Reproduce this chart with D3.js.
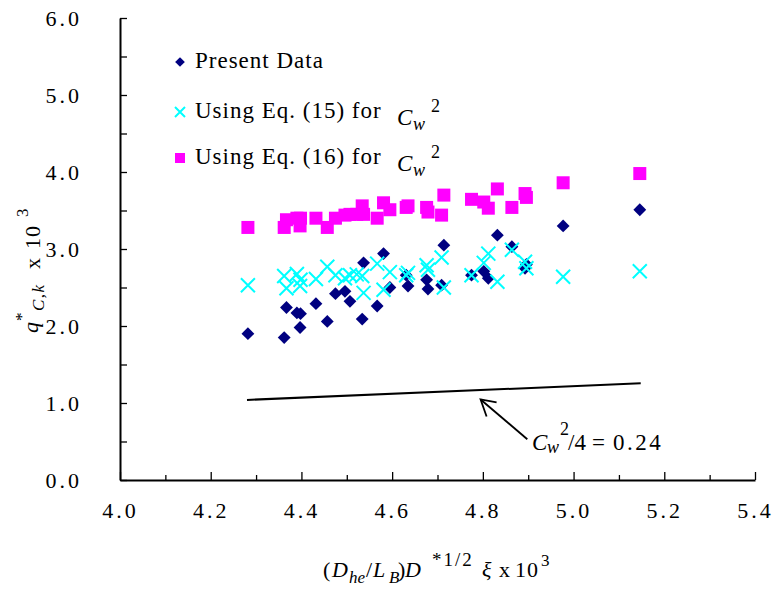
<!DOCTYPE html>
<html>
<head>
<meta charset="utf-8">
<script src="https://cdn.jsdelivr.net/npm/d3@7"></script>
<style>
  body { margin: 0; background: #fff; }
  svg { display: block; }
  svg text { font-family: 'Liberation Serif', 'Times New Roman', serif; fill: #000; }
</style>
</head>
<body>
<svg id="chart" width="774" height="597"></svg>
<script>
// x values shared by the two model series
const xVals = [4.282, 4.362, 4.367, 4.390, 4.397, 4.398, 4.432, 4.457, 4.475, 4.496, 4.507, 4.522, 4.534, 4.537, 4.567, 4.581,
  4.595, 4.631, 4.635, 4.676, 4.679, 4.709, 4.714, 4.775, 4.802, 4.812, 4.832, 4.864, 4.893, 4.896, 4.977, 5.146];

const presentX = [4.282, 4.362, 4.367, 4.390, 4.397, 4.398, 4.432, 4.457, 4.475, 4.496, 4.507, 4.534, 4.537, 4.567, 4.581, 4.595,
  4.631, 4.635, 4.676, 4.679, 4.709, 4.714, 4.775, 4.802, 4.812, 4.832, 4.864, 4.893, 4.896, 4.977, 5.146];
const presentY = [1.90, 1.85, 2.24, 2.17, 1.98, 2.16, 2.29, 2.06, 2.42, 2.45, 2.32, 2.09, 2.82, 2.26, 2.94, 2.50,
  2.66, 2.52, 2.60, 2.48, 2.53, 3.05, 2.66, 2.71, 2.62, 3.18, 3.03, 2.75, 2.80, 3.30, 3.51];

const eq15Y = [2.53, 2.65, 2.49, 2.675, 2.52, 2.60, 2.61, 2.77, 2.66, 2.62, 2.66, 2.67, 2.65, 2.43, 2.81, 2.47,
  2.70, 2.66, 2.69, 2.79, 2.73, 2.89, 2.50, 2.66, 2.82, 2.94, 2.575, 2.99, 2.835, 2.75, 2.64, 2.71];

const eq16Y = [3.28, 3.28, 3.38, 3.40, 3.30, 3.40, 3.40, 3.28, 3.40, 3.44, 3.45, 3.45, 3.56, 3.45, 3.40, 3.60,
  3.51, 3.54, 3.56, 3.54, 3.48, 3.44, 3.70, 3.645, 3.61, 3.53, 3.78, 3.54, 3.72, 3.67, 3.86, 3.98];

// C_w^2/4 = 0.24 line
const lineX = [4.28, 5.148];
const lineY = [1.04, 1.255];

const xTicks = [4.0, 4.2, 4.4, 4.6, 4.8, 5.0, 5.2, 5.4];

const svg = d3.select("#chart");
svg.append("rect").attr("width", 774).attr("height", 597).attr("fill", "#fff");

const x = d3.scaleLinear().domain([4.0, 5.4]).range([120, 755]);
const y = d3.scaleLinear().domain([0, 6]).range([480, 18]);

const serif = "'Liberation Serif', 'Times New Roman', serif";

// y axis
svg.append("g")
  .attr("transform", "translate(120,0)")
  .call(d3.axisLeft(y)
    .tickValues(d3.range(0, 6.01, 0.5))
    .tickSizeInner(-7)
    .tickSizeOuter(0)
    .tickPadding(38)
    .tickFormat(d => Number.isInteger(d) ? d.toFixed(1) : ""))
  .attr("font-family", serif)
  .attr("font-size", 22);

// x axis: minor then major ticks
svg.append("g")
  .attr("transform", "translate(0,480)")
  .call(d3.axisBottom(x)
    .tickValues(d3.range(4.1, 5.4, 0.2))
    .tickSizeInner(-5)
    .tickSizeOuter(0)
    .tickFormat(""))
  .select(".domain").remove();

svg.append("g")
  .attr("transform", "translate(0,480)")
  .call(d3.axisBottom(x)
    .tickValues(xTicks)
    .tickSizeInner(-8)
    .tickSizeOuter(0)
    .tickPadding(22)
    .tickFormat(d3.format(".1f")))
  .attr("font-family", serif)
  .attr("font-size", 22);

svg.selectAll(".tick text").style("letter-spacing", "3px");
svg.selectAll(".tick line").style("stroke", "#000").style("stroke-width", 1.3);
svg.selectAll(".domain").style("stroke", "#000").style("stroke-width", 2);

// fitted line
svg.append("line")
  .attr("x1", x(lineX[0])).attr("y1", y(lineY[0]))
  .attr("x2", x(lineX[1])).attr("y2", y(lineY[1]))
  .attr("stroke", "#000").attr("stroke-width", 2);

// arrow pointing at the line
const tip = [x(4.795), y(1.046)];
const tail = [x(4.898), y(0.53)];
svg.append("line")
  .attr("x1", tail[0]).attr("y1", tail[1])
  .attr("x2", tip[0]).attr("y2", tip[1])
  .attr("stroke", "#000").attr("stroke-width", 1.8);
svg.append("path")
  .attr("d", `M${tip[0] + 6},${tip[1] + 17} L${tip[0]},${tip[1]} L${tip[0] + 16},${tip[1] + 3}`)
  .attr("fill", "none").attr("stroke", "#000").attr("stroke-width", 1.8);

// markers
const diamond = d3.symbol().type(d3.symbolDiamond2).size(105);

svg.append("g").selectAll("path")
  .data(presentX.map((d, i) => [d, presentY[i]]))
  .enter().append("path")
  .attr("d", diamond)
  .attr("transform", d => `translate(${x(d[0])},${y(d[1])})`)
  .attr("fill", "#000080");

svg.append("g").selectAll("path")
  .data(xVals.map((d, i) => [d, eq15Y[i]]))
  .enter().append("path")
  .attr("d", "M-7,-7L7,7M-7,7L7,-7")
  .attr("transform", d => `translate(${x(d[0])},${y(d[1])})`)
  .attr("stroke", "#00ffff").attr("stroke-width", 2).attr("fill", "none");

svg.append("g").selectAll("rect")
  .data(xVals.map((d, i) => [d, eq16Y[i]]))
  .enter().append("rect")
  .attr("x", d => x(d[0]) - 6.5)
  .attr("y", d => y(d[1]) - 6.5)
  .attr("width", 13).attr("height", 13)
  .attr("fill", "#ff00ff");

// legend
const legend = svg.append("g");
legend.append("path").attr("d", d3.symbol().type(d3.symbolDiamond2).size(60))
  .attr("transform", "translate(180,62)").attr("fill", "#000080");
legend.append("path").attr("d", "M-5,-5L5,5M-5,5L5,-5")
  .attr("transform", "translate(180,112)").attr("stroke", "#00ffff").attr("stroke-width", 2);
legend.append("rect").attr("x", 175).attr("y", 153).attr("width", 10).attr("height", 10).attr("fill", "#ff00ff");

const lt = legend.append("g").style("font-size", "23px").style("letter-spacing", "1px");
lt.append("text").attr("x", 195).attr("y", 68).text("Present Data");
lt.append("text").attr("x", 195).attr("y", 118).text("Using Eq. (15) for");
lt.append("text").attr("x", 195).attr("y", 164).text("Using Eq. (16) for");

// C_w^2 with explicit piece positions
function cw2(px, py) {
  const t = svg.append("text").style("font-size", "23px");
  t.append("tspan").attr("x", px).attr("y", py).style("font-style", "italic").text("C");
  t.append("tspan").attr("x", px + 16).attr("y", py + 5).style("font-style", "italic").style("font-size", "18px").text("w");
  t.append("tspan").attr("x", px + 34).attr("y", py - 13).style("font-size", "18px").text("2");
  return t;
}
cw2(397, 125);
cw2(397, 171);

// annotation
const ann = svg.append("text").style("font-size", "23px");
ann.append("tspan").attr("x", 532).attr("y", 450).style("font-style", "italic").text("C");
ann.append("tspan").attr("x", 547).attr("y", 453).style("font-style", "italic").style("font-size", "18px").text("w");
ann.append("tspan").attr("x", 560).attr("y", 435).style("font-size", "18px").text("2");
ann.append("tspan").attr("x", 568).attr("y", 450).text("/4");
ann.append("tspan").attr("x", 592).attr("y", 450).text("=");
ann.append("tspan").attr("x", 613).attr("y", 450).style("letter-spacing", "2.5px").text("0.24");

// y axis title (rotated frame: local x runs up the page)
const yt = svg.append("text")
  .attr("transform", "translate(40,333) rotate(-90)")
  .style("font-size", "22px");
yt.append("tspan").attr("x", 0).attr("y", -2).style("font-style", "italic").text("q");
yt.append("tspan").attr("x", 12).attr("y", -13).style("font-size", "17px").text("*");
yt.append("tspan").attr("x", 22).attr("y", 4).style("font-style", "italic").style("font-size", "17px").style("letter-spacing", "1.5px").text("C,k");
yt.append("tspan").attr("x", 64).attr("y", 0).text("x");
yt.append("tspan").attr("x", 84).attr("y", 0).style("letter-spacing", "1px").text("10");
yt.append("tspan").attr("x", 116).attr("y", -12).style("font-size", "17px").text("3");

// x axis title
const xt = svg.append("text").style("font-size", "22px");
xt.append("tspan").attr("x", 323).attr("y", 577).text("(");
xt.append("tspan").attr("x", 332).attr("y", 577).style("font-style", "italic").text("D");
xt.append("tspan").attr("x", 349).attr("y", 583).style("font-style", "italic").style("font-size", "17px").text("he");
xt.append("tspan").attr("x", 366).attr("y", 577).text("/");
xt.append("tspan").attr("x", 373).attr("y", 577).style("font-style", "italic").text("L");
xt.append("tspan").attr("x", 389).attr("y", 583).style("font-style", "italic").style("font-size", "17px").text("B");
xt.append("tspan").attr("x", 398).attr("y", 577).text(")");
xt.append("tspan").attr("x", 405).attr("y", 577).style("font-style", "italic").text("D");
xt.append("tspan").attr("x", 432).attr("y", 566).style("font-size", "19px").style("letter-spacing", "2px").text("*1/2");
xt.append("tspan").attr("x", 482).attr("y", 577).style("font-style", "italic").text("ξ");
xt.append("tspan").attr("x", 499).attr("y", 577).text("x");
xt.append("tspan").attr("x", 515).attr("y", 577).style("letter-spacing", "1px").text("10");
xt.append("tspan").attr("x", 541).attr("y", 566).style("font-size", "17px").text("3");
</script>
</body>
</html>
